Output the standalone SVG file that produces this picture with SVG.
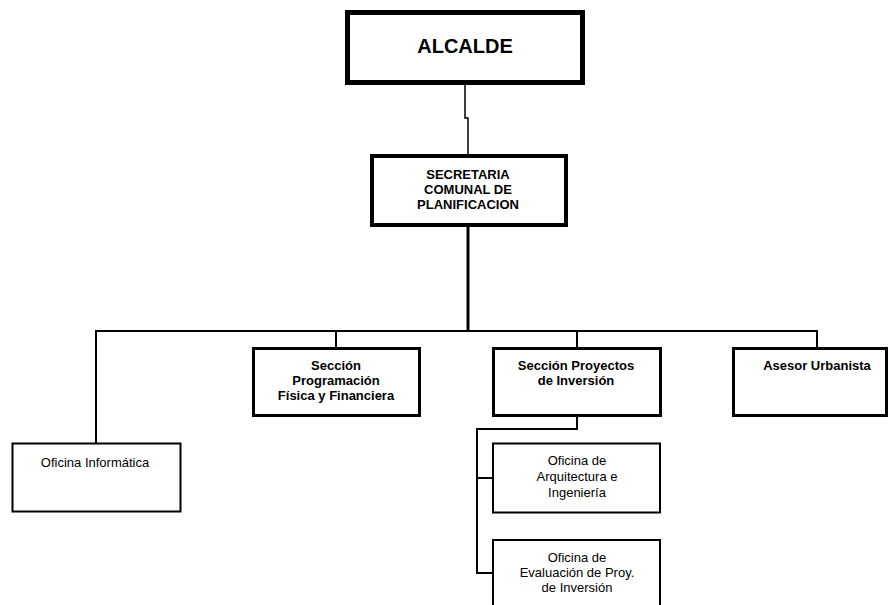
<svg xmlns="http://www.w3.org/2000/svg" width="890" height="605" viewBox="0 0 890 605">
<style>
.b{fill:#fff;stroke:#000}
.t{font-family:"Liberation Sans",Arial,sans-serif;font-size:13px;text-anchor:middle;fill:#000}
.bold{font-weight:bold}
.c{fill:none;stroke:#000;stroke-linejoin:miter}
</style>
<rect width="890" height="605" fill="#fff"/>
<g id="connectors">
<polyline class="c" stroke-width="1.5" points="465,85 465,118 468,118 468,154"/>
<line class="c" stroke-width="3" x1="468" y1="227" x2="468" y2="332"/>
<polyline class="c" stroke-width="2" points="96,443 96,331 817,331 817,347"/>
<line class="c" stroke-width="2" x1="336" y1="331" x2="336" y2="347"/>
<line class="c" stroke-width="2" x1="577" y1="331" x2="577" y2="347"/>
<polyline class="c" stroke-width="2" points="577,417 577,429 477,429 477,573 493,573"/>
<line class="c" stroke-width="2" x1="477" y1="478" x2="493" y2="478"/>
</g>
<g id="alcalde">
<rect class="b" x="347.5" y="12.5" width="235" height="70" stroke-width="5"/>
<text class="t bold" x="465" y="53" style="font-size:20px">ALCALDE</text>
</g>
<g id="secretaria">
<rect class="b" x="372" y="156" width="194" height="69" stroke-width="4"/>
<text class="t bold" x="468" y="179">SECRETARIA</text>
<text class="t bold" x="468" y="194">COMUNAL DE</text>
<text class="t bold" x="468" y="209">PLANIFICACION</text>
</g>
<g id="programacion">
<rect class="b" x="253.5" y="348.5" width="166" height="67" stroke-width="3"/>
<text class="t bold" x="336" y="370">Sección</text>
<text class="t bold" x="336" y="385">Programación</text>
<text class="t bold" x="336" y="400">Física y Financiera</text>
</g>
<g id="proyectos">
<rect class="b" x="493.5" y="348.5" width="167" height="67" stroke-width="3"/>
<text class="t bold" x="576" y="370">Sección Proyectos</text>
<text class="t bold" x="576" y="385">de Inversión</text>
</g>
<g id="asesor">
<rect class="b" x="733.5" y="348.5" width="153" height="67" stroke-width="3"/>
<text class="t bold" x="817" y="370">Asesor Urbanista</text>
</g>
<g id="informatica">
<rect class="b" x="12.5" y="443.5" width="168" height="68" stroke-width="2"/>
<text class="t" x="95" y="467">Oficina Informática</text>
</g>
<g id="arquitectura">
<rect class="b" x="493" y="443.5" width="167" height="69" stroke-width="2"/>
<text class="t" x="577" y="465">Oficina de</text>
<text class="t" x="577" y="481">Arquitectura e</text>
<text class="t" x="577" y="497">Ingeniería</text>
</g>
<g id="evaluacion">
<rect class="b" x="493" y="540" width="167" height="80" stroke-width="2"/>
<text class="t" x="577" y="562">Oficina de</text>
<text class="t" x="577" y="577">Evaluación de Proy.</text>
<text class="t" x="577" y="592">de Inversión</text>
</g>
</svg>
